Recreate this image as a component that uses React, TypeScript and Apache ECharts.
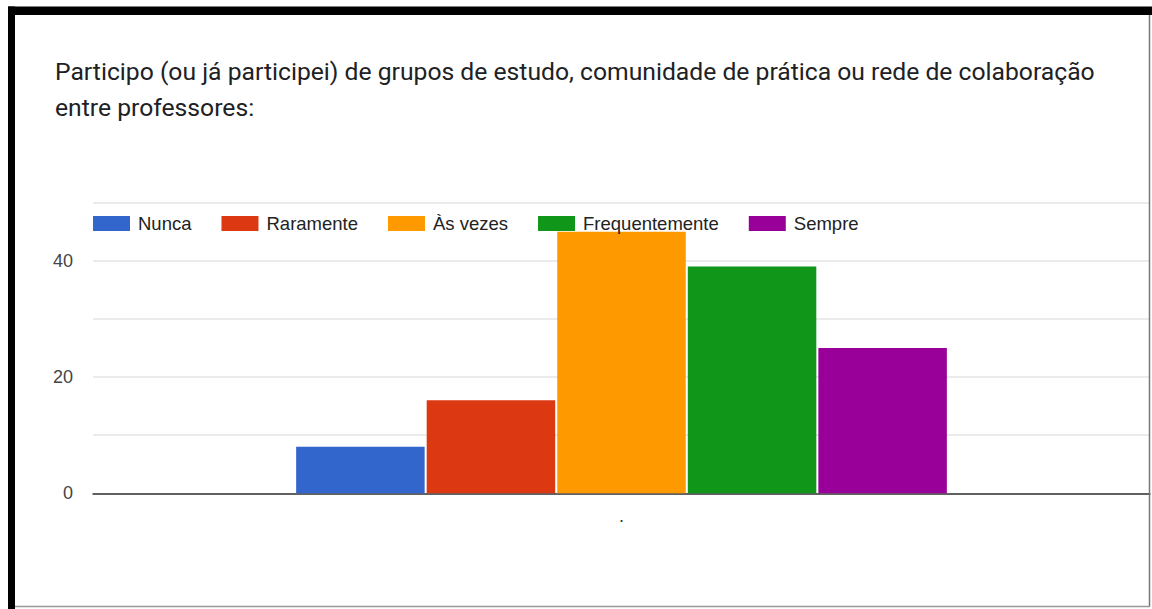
import React, { useEffect, useRef } from "react";
import * as echarts from "echarts";

const categories: string[] = ["."];
const seriesNames: string[] = ["Nunca", "Raramente", "Às vezes", "Frequentemente", "Sempre"];
const seriesValues: number[] = [8, 16, 45, 39, 25];
const seriesColors: string[] = ["#3366cc", "#dc3912", "#ff9900", "#109618", "#990099"];
const yTickLabels: number[] = [0, 20, 40];
const titleText = "Participo (ou já participei) de grupos de estudo, comunidade de prática ou rede de colaboração\nentre professores:";

export default function App() {
  const ref = useRef<HTMLDivElement>(null);
  useEffect(() => {
    if (!ref.current) return;
    const chart = echarts.init(ref.current, undefined, { renderer: "svg" });
    const option: any = {
      animation: false,
      backgroundColor: "#ffffff",
      title: {
        text: titleText,
        left: 55,
        top: 53,
        padding: 0,
        textStyle: {
          fontFamily: "Roboto",
          fontWeight: "normal",
          fontSize: 24.7,
          lineHeight: 36,
          color: "#202124",
        },
      },
      legend: {
        left: 93,
        top: 214,
        padding: 0,
        icon: "rect",
        itemWidth: 37,
        itemHeight: 15,
        itemGap: 30,
        textStyle: {
          fontFamily: "Arial, 'Liberation Sans'",
          fontSize: 18.5,
          color: "#222222",
          padding: [0, 0, 0, 3],
        },
        data: seriesNames,
      },
      grid: {
        left: 93,
        right: 2,
        top: 202.6,
        bottom: 609 - 493.3,
        containLabel: false,
      },
      xAxis: {
        type: "category",
        data: categories,
        axisLine: { show: true, lineStyle: { color: "#333333", width: 1.5 } },
        axisTick: { show: false },
        axisLabel: { color: "#333333", fontSize: 18, margin: 14, fontFamily: "Arial, 'Liberation Sans'" },
      },
      yAxis: {
        type: "value",
        min: 0,
        max: 50,
        interval: 10,
        axisLine: { show: false },
        axisTick: { show: false },
        splitLine: { show: true, lineStyle: { color: "#e4e4e4", width: 1.5 } },
        axisLabel: {
          margin: 20,
          color: "#444444",
          fontSize: 18,
          fontFamily: "Arial, 'Liberation Sans'",
          formatter: (v: number) => (yTickLabels.indexOf(v) >= 0 ? String(v) : ""),
        },
      },
      series: seriesNames.map((name, i) => ({
        name,
        type: "bar",
        data: [seriesValues[i]],
        barWidth: 128.5,
        barGap: "1.6%",
        itemStyle: { color: seriesColors[i] },
      })),
      graphic: [
        { type: "rect", shape: { x: 8, y: 6.5, width: 1144, height: 8.5 }, style: { fill: "#000000" }, z: 100 },
        { type: "rect", shape: { x: 8, y: 6.5, width: 7, height: 603 }, style: { fill: "#000000" }, z: 100 },
        { type: "line", shape: { x1: 1149.5, y1: 15, x2: 1149.5, y2: 607 }, style: { stroke: "#777777", lineWidth: 1.5 }, z: 100 },
        { type: "line", shape: { x1: 15, y1: 606.5, x2: 1150, y2: 606.5 }, style: { stroke: "#999999", lineWidth: 1.5 }, z: 100 },
      ],
    };
    chart.setOption(option);
    return () => chart.dispose();
  }, []);
  return (
    <div
      ref={ref}
      style={{ position: "absolute", left: 0, top: 0, width: 1152, height: 609, background: "#fff" }}
    />
  );
}
